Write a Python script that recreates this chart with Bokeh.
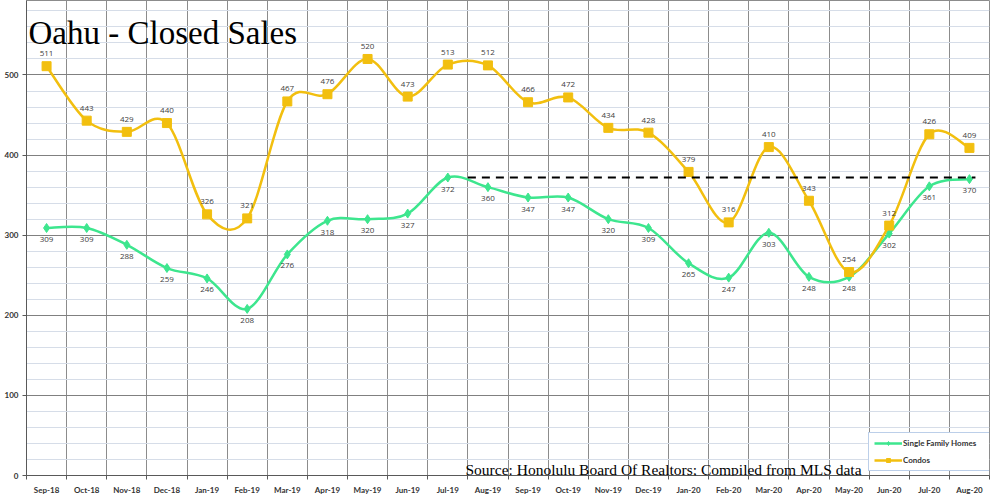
import numpy as np
from bokeh.plotting import figure
from bokeh.models import FixedTicker, Label, Legend, LegendItem, ColumnDataSource
from bokeh.core.properties import value
from bokeh.embed import file_html
from bokeh.resources import INLINE

# ---------------- data ----------------
months = ["Sep-18", "Oct-18", "Nov-18", "Dec-18", "Jan-19", "Feb-19", "Mar-19", "Apr-19",
          "May-19", "Jun-19", "Jul-19", "Aug-19", "Sep-19", "Oct-19", "Nov-19", "Dec-19",
          "Jan-20", "Feb-20", "Mar-20", "Apr-20", "May-20", "Jun-20", "Jul-20", "Aug-20"]
condos = [511, 443, 429, 440, 326, 321, 467, 476, 520, 473, 513, 512,
          466, 472, 434, 428, 379, 316, 410, 343, 254, 312, 426, 409]
single_family = [309, 309, 288, 259, 246, 208, 276, 318, 320, 327, 372, 360,
                 347, 347, 320, 309, 265, 247, 303, 248, 248, 302, 361, 370]
y_ticks = [0, 100, 200, 300, 400, 500]
reference_month = "Jul-19"

title_text = "Oahu - Closed Sales"
source_text = "Source: Honolulu Board Of Realtors; Compiled from MLS data"

GOLD = "#F2BF0F"
GREEN = "#3DE68E"

n = len(months)
xs = list(range(n))


def smooth_source(x, y):
    """Bezier control points (Catmull-Rom style, like Excel smoothed lines)."""
    x = np.asarray(x, float)
    y = np.asarray(y, float)
    m = len(x)
    idx = lambda i: min(max(i, 0), m - 1)
    d = dict(x0=[], y0=[], x1=[], y1=[], cx0=[], cy0=[], cx1=[], cy1=[])
    for i in range(m - 1):
        p0, p1 = idx(i - 1), idx(i + 2)
        d["x0"].append(x[i]); d["y0"].append(y[i])
        d["x1"].append(x[i + 1]); d["y1"].append(y[i + 1])
        d["cx0"].append(x[i] + (x[i + 1] - x[p0]) / 6)
        d["cy0"].append(y[i] + (y[i + 1] - y[p0]) / 6)
        d["cx1"].append(x[i + 1] - (x[p1] - x[i]) / 6)
        d["cy1"].append(y[i + 1] - (y[p1] - y[i]) / 6)
    return ColumnDataSource(d)


p = figure(width=1000, height=497, x_range=(-0.5, n - 0.5), y_range=(0, 593),
           output_backend="svg", toolbar_location=None,
           min_border_left=26, min_border_right=11, min_border_top=0, min_border_bottom=20)
p.background_fill_color = "white"
p.border_fill_color = "white"
p.outline_line_color = "#8c8c8c"

boundaries = [i - 0.5 for i in range(n + 1)]

# axes
p.xaxis.ticker = FixedTicker(ticks=xs, minor_ticks=boundaries)
p.xaxis.major_label_overrides = {i: m for i, m in enumerate(months)}
p.xaxis.major_tick_line_color = None
p.xaxis.minor_tick_out = 4
p.xaxis.minor_tick_in = 0
p.xaxis.minor_tick_line_color = "#595959"
p.xaxis.major_label_standoff = 3
p.xaxis.axis_line_color = "#595959"

p.yaxis.ticker = FixedTicker(ticks=y_ticks, minor_ticks=list(range(0, 600, 20)))
p.yaxis.major_tick_out = 4
p.yaxis.major_tick_in = 0
p.yaxis.minor_tick_out = 0
p.yaxis.minor_tick_in = 0
p.yaxis.major_tick_line_color = "#595959"
p.yaxis.major_label_standoff = 4
p.yaxis.axis_line_color = "#595959"

for ax in (p.xaxis, p.yaxis):
    ax.major_label_text_font = "Lato"
    ax.major_label_text_font_style = "bold"
    ax.major_label_text_font_size = "8px"
    ax.major_label_text_color = "#333333"

# grids
p.xgrid.ticker = FixedTicker(ticks=boundaries)
p.xgrid.grid_line_color = "#8c8c8c"
p.ygrid.grid_line_color = "#808080"
p.ygrid.minor_grid_line_color = "#d6dde8"

# series
sfh_curve = p.bezier(x0="x0", y0="y0", x1="x1", y1="y1", cx0="cx0", cy0="cy0",
                     cx1="cx1", cy1="cy1", source=smooth_source(xs, single_family),
                     line_color=GREEN, line_width=2.5)
sfh_pts = p.scatter(xs, single_family, marker="diamond", size=9,
                    fill_color=GREEN, line_color=GREEN)
condo_curve = p.bezier(x0="x0", y0="y0", x1="x1", y1="y1", cx0="cx0", cy0="cy0",
                       cx1="cx1", cy1="cy1", source=smooth_source(xs, condos),
                       line_color=GOLD, line_width=2.5)
condo_pts = p.scatter(xs, condos, marker="square", size=9,
                      fill_color=GOLD, line_color=GOLD)

# data labels
p.text(xs, condos, text=[str(v) for v in condos], text_align="center",
       text_baseline="bottom", y_offset=-10, text_font=value("Open Sans"),
       text_font_size="8px", text_color="#404040")
p.text(xs, single_family, text=[str(v) for v in single_family], text_align="center",
       text_baseline="top", y_offset=9, text_font=value("Open Sans"),
       text_font_size="8px", text_color="#404040")

# reference dashed line at the Jul-19 single-family level
ri = months.index(reference_month)
p.line([ri + 0.5, n - 1 + 0.15], [single_family[ri]] * 2, line_color="black",
       line_width=2, line_dash="8 6")

# title and source
p.add_layout(Label(x=-0.45, y=553, text=title_text, text_font="Liberation Serif",
                   text_font_size="33px", text_color="black",
                   text_baseline="alphabetic"))
p.add_layout(Label(x=10.44, y=7.5, text=source_text, text_font="Liberation Serif",
                   text_font_size="15.5px", text_color="black",
                   text_baseline="alphabetic"))

legend = Legend(items=[LegendItem(label="Single Family Homes", renderers=[sfh_curve, sfh_pts]),
                       LegendItem(label="Condos", renderers=[condo_curve, condo_pts])],
                location=(842, 4))
legend.label_text_font = "Lato"
legend.label_text_font_style = "bold"
legend.label_text_font_size = "8px"
legend.label_text_color = "#333333"
legend.border_line_color = "#7a9fd4"
legend.background_fill_alpha = 1
legend.glyph_width = 28
legend.glyph_height = 10
legend.label_standoff = 1
legend.label_width = 84
legend.padding = 5
legend.spacing = 7
legend.margin = 0
legend.label_height = 10
p.add_layout(legend)

open("out.html", "w").write(file_html(p, INLINE))
